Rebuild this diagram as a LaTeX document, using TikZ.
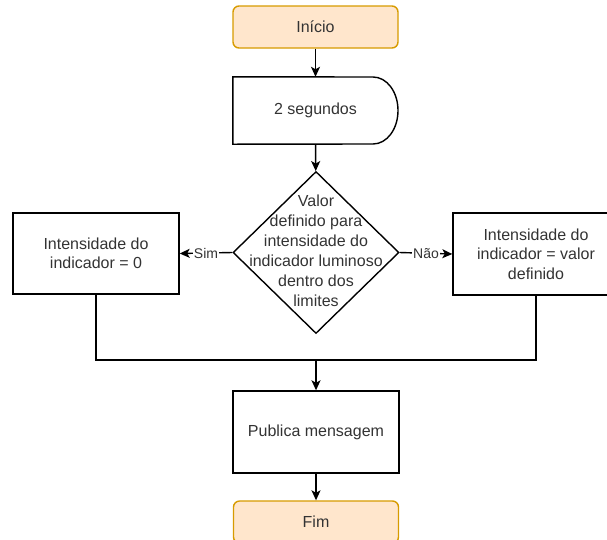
\documentclass[tikz,border=0pt]{standalone}
\usepackage{fontspec}
\setmainfont{Liberation Sans}
\usetikzlibrary{shapes.geometric,arrows.meta}
\definecolor{txt}{HTML}{333333}
\definecolor{termfill}{HTML}{FFE6CC}
\definecolor{termline}{HTML}{D79B00}
\begin{document}
\begin{tikzpicture}[x=1pt,y=-1pt,
  every node/.style={font=\fontsize{16}{19.5}\selectfont, text=txt},
  terminal/.style={draw=termline, fill=termfill, rounded corners=6pt, line width=1.4pt,
    minimum width=165pt, minimum height=42pt, inner sep=0pt},
  process/.style={draw=black, line width=1.4pt, minimum width=166pt, minimum height=81pt,
    align=center, inner sep=0pt},
  decision/.style={draw=black, line width=1.4pt, diamond, minimum width=166pt,
    minimum height=162pt, inner sep=0pt},
  flow/.style={draw=black, line width=1.4pt, -{Stealth[length=10pt,width=9pt,inset=2.5pt]}},
  plainline/.style={draw=black, line width=1.4pt},
  edgelabel/.style={fill=white, inner sep=1pt, font=\fontsize{14}{16}\selectfont}
]
\useasboundingbox (0,0) rectangle (607,539);

% start and end terminals
\node[terminal] (start) at (315.5,27) {Início};
\node[terminal] (fim) at (316,522) {Fim};

% delay block: flat left side, rounded right side
\node[minimum width=165pt, minimum height=67pt, inner sep=0pt] (delay) at (315.5,110.5) {2 segundos};
\draw[line width=1.4pt] (delay.north west) -- (373,77)
  .. controls (387,77) and (398,92) .. (398,110.5)
  .. controls (398,129) and (387,144) .. (373,144)
  -- (delay.south west) -- cycle;

% decision
\node[decision] (dec) at (316,252.5) {\raisebox{-0.3em}[0pt][0pt]{\makebox[0pt]{\begin{tabular}{@{}c@{}}Valor\\[0.5pt]definido para\\[0.5pt]intensidade do\\[0.5pt]indicador luminoso\\[0.5pt]dentro dos\\[0.5pt]limites\end{tabular}}}};

% outcome boxes
\node[process] (zero) at (96,253.5) {Intensidade do\\indicador = 0};
\node[process, minimum height=82pt] (valor) at (536,254) {Intensidade do\\indicador = valor\\definido};

% publish
\node[process, minimum height=82pt] (pub) at (316,432) {Publica mensagem};

\coordinate (join) at (316,360);

% connectors
\draw[flow] (start) -- (delay);
\draw[flow] (delay) -- (dec);
\draw[flow] (dec.west) -- node[edgelabel] {Sim} (zero.east);
\draw[flow] (dec.east) -- node[edgelabel] {Não} (valor.west);
\draw[plainline] (zero.south) |- (join) -| (valor.south);
\draw[flow] (join) -- (pub);
\draw[flow] (pub) -- (fim);
\end{tikzpicture}
\end{document}
